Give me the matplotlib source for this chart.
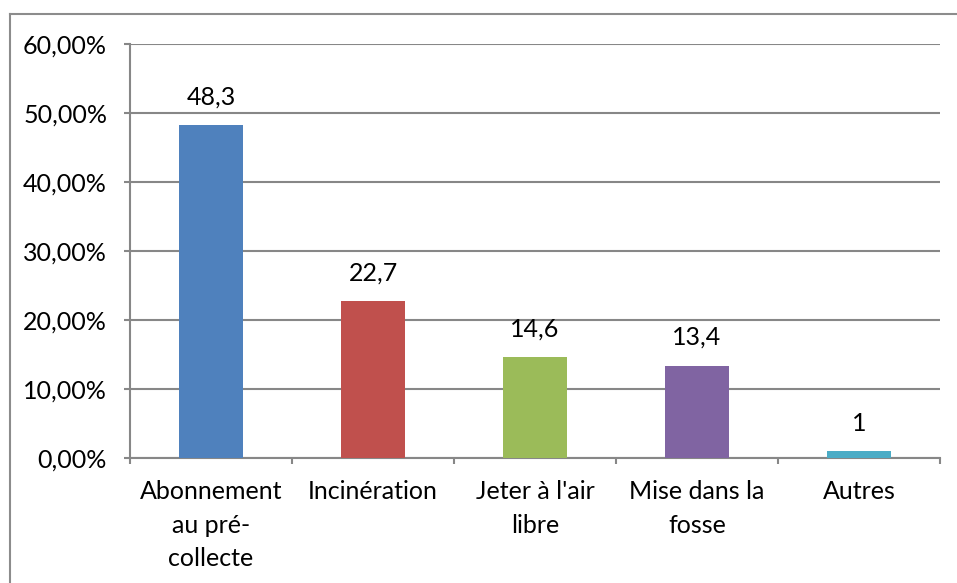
import numpy as np
import matplotlib.pyplot as plt
from matplotlib.lines import Line2D
from matplotlib.ticker import FuncFormatter

plt.rcParams['font.family'] = ['Lato', 'DejaVu Sans']

categories = ['Abonnement\nau pré-\ncollecte', 'Incinération', "Jeter à l'air\nlibre",
              'Mise dans la\nfosse', 'Autres']
values = [48.3, 22.7, 14.6, 13.4, 1]
colors = ['#4F81BD', '#C0504D', '#9BBB59', '#8064A2', '#4BACC6']
yticks = [0, 10, 20, 30, 40, 50, 60]

grid_color = '#878787'
fs = 18

fig = plt.figure(figsize=(9.57, 5.83), dpi=100)
ax = fig.add_axes([130/957, 1 - 458/583, 810/957, 414/583])

x = np.arange(len(categories))
ax.bar(x, values, width=0.4, color=colors, zorder=3)
for xi, v in zip(x, values):
    ax.text(xi, v + 2.4, f'{v:g}'.replace('.', ','), ha='center', va='bottom',
            fontsize=fs, color='black')

ax.set_xlim(-0.5, len(categories) - 0.5)
ax.set_ylim(0, 60)
ax.set_yticks(yticks)
ax.yaxis.set_major_formatter(FuncFormatter(lambda v, p: f'{v:.2f}'.replace('.', ',') + '%'))
ax.yaxis.grid(True, color=grid_color, linewidth=1.5, zorder=0)

# category labels centred, ticks on the category boundaries
ax.set_xticks(x)
ax.set_xticklabels(categories, fontsize=fs, linespacing=1.55)
ax.tick_params(axis='x', length=0, pad=16)
ax.set_xticks(np.arange(len(categories) + 1) - 0.5, minor=True)
ax.tick_params(axis='x', which='minor', length=4.5, width=1.5, color=grid_color)
ax.tick_params(axis='y', length=4.5, width=1.5, color=grid_color, labelsize=fs, pad=12)

for side in ['top', 'right']:
    ax.spines[side].set_visible(False)
for side in ['left', 'bottom']:
    ax.spines[side].set_color(grid_color)
    ax.spines[side].set_linewidth(1.5)

# chart area border (only top and left visible)
fig.add_artist(Line2D([10/957, 10/957], [-0.1, 1 - 14/583], transform=fig.transFigure,
                      color='#8c8c8c', linewidth=1.5))
fig.add_artist(Line2D([10/957, 1.1], [1 - 14/583, 1 - 14/583], transform=fig.transFigure,
                      color='#8c8c8c', linewidth=1.5))

fig.savefig('out.png', dpi=100)
